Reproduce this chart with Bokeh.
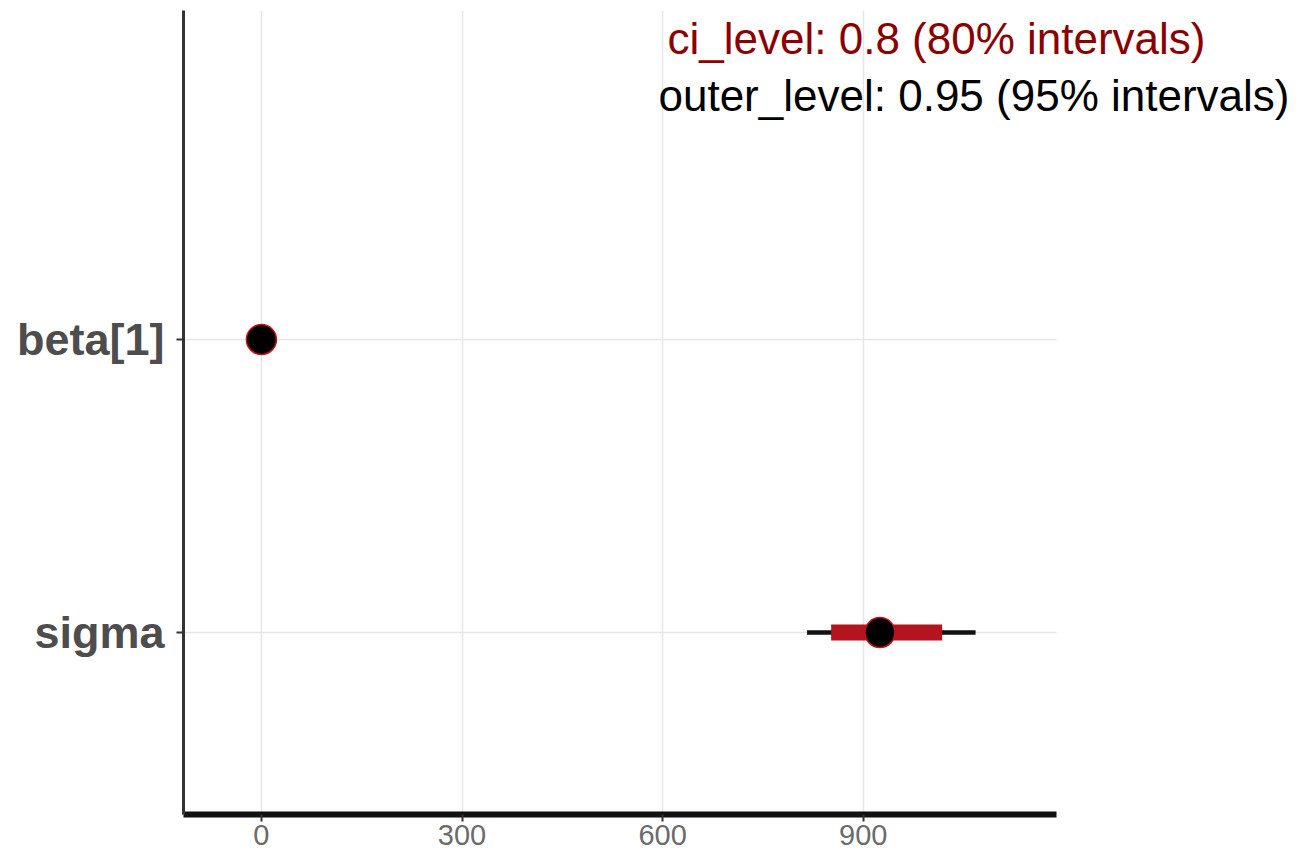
from bokeh.plotting import figure
from bokeh.models import Range1d, FixedTicker, Label, ColumnDataSource
from bokeh.embed import file_html
from bokeh.resources import INLINE

# ---- data ----
params = ["sigma", "beta[1]"]
param_pos = [1, 2]
point_est = [925, 0]
inner_lo = [852, 0]
inner_hi = [1018, 0]
outer_lo = [816, 0]
outer_hi = [1068, 0]
x_ticks = [0, 300, 600, 900]
x_axis_extent = (-116.5, 1189)
ci_text = "ci_level: 0.8 (80% intervals)"
outer_text = "outer_level: 0.95 (95% intervals)"

src = ColumnDataSource(dict(pos=param_pos, m=point_est, ilo=inner_lo, ihi=inner_hi,
                            olo=outer_lo, ohi=outer_hi))
grid_src = ColumnDataSource(dict(pos=param_pos,
                                 x0=[x_axis_extent[0]] * len(param_pos),
                                 x1=[x_axis_extent[1]] * len(param_pos)))

# frame extends to the right so the annotation text is not clipped;
# the axis line and horizontal grid are bounded to the data panel
p = figure(width=1304, height=858, output_backend="svg", toolbar_location=None,
           x_range=Range1d(-116.5, 1553.9), y_range=Range1d(0.379, 3.123),
           min_border_left=183, min_border_right=4, min_border_top=10,
           min_border_bottom=44)
p.outline_line_color = None
p.background_fill_color = "white"
p.border_fill_color = "white"

# grid
p.xgrid.ticker = FixedTicker(ticks=x_ticks)
p.xgrid.grid_line_color = "#e6e6e6"
p.xgrid.grid_line_width = 1.5
p.ygrid.grid_line_color = None
p.segment(x0="x0", y0="pos", x1="x1", y1="pos", source=grid_src,
          line_color="#e6e6e6", line_width=1.5, level="underlay")

# axes
p.xaxis.ticker = FixedTicker(ticks=x_ticks)
p.xaxis.bounds = x_axis_extent
p.xaxis.axis_line_width = 6
p.xaxis.axis_line_color = "#111111"
p.xaxis.major_tick_line_color = "#333333"
p.xaxis.major_tick_line_width = 2
p.xaxis.major_tick_out = 7
p.xaxis.major_tick_in = 0
p.xaxis.minor_tick_line_color = None
p.xaxis.major_label_text_font = "Liberation Sans"
p.xaxis.major_label_text_font_size = "29px"
p.xaxis.major_label_text_color = "#6b6b6b"
p.xaxis.major_label_standoff = 3

p.yaxis.ticker = FixedTicker(ticks=param_pos)
p.yaxis.major_label_overrides = {pos: name for pos, name in zip(param_pos, params)}
p.yaxis.axis_line_width = 3
p.yaxis.axis_line_color = "#333333"
p.yaxis.major_tick_line_color = "#333333"
p.yaxis.major_tick_line_width = 2
p.yaxis.major_tick_out = 7
p.yaxis.major_tick_in = 0
p.yaxis.minor_tick_line_color = None
p.yaxis.major_label_text_font = "Liberation Sans"
p.yaxis.major_label_text_font_style = "bold"
p.yaxis.major_label_text_font_size = "45px"
p.yaxis.major_label_text_color = "#4d4d4d"
p.yaxis.major_label_standoff = 12

# intervals
p.segment(x0="olo", y0="pos", x1="ohi", y1="pos", source=src,
          line_color="#111111", line_width=4.5, line_cap="butt")
p.segment(x0="ilo", y0="pos", x1="ihi", y1="pos", source=src,
          line_color="#b3141d", line_width=16, line_cap="butt")
p.scatter(x="m", y="pos", source=src, size=30, fill_color="black",
          line_color="#c8101c", line_width=1.5)

# annotations
p.add_layout(Label(x=607.3, y=3.028, text=ci_text, text_font="Liberation Sans",
                   text_font_size="44px", text_color="#8b0000",
                   text_baseline="alphabetic"))
p.add_layout(Label(x=593.8, y=2.833, text=outer_text, text_font="Liberation Sans",
                   text_font_size="44px", text_color="black",
                   text_baseline="alphabetic"))

open("out.html", "w").write(file_html(p, INLINE))
